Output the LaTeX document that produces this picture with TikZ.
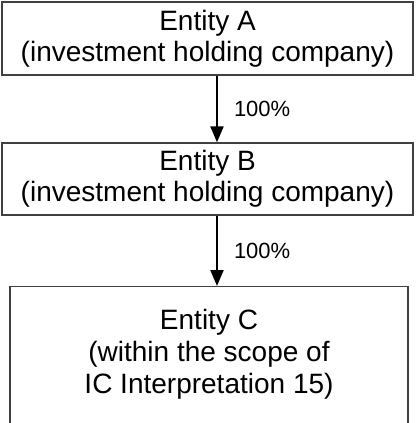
\documentclass[tikz,border=0pt]{standalone}
\usepackage{fontspec}
\setmainfont{Liberation Sans}
\usetikzlibrary{arrows.meta}

\tikzset{
  entity/.style={draw=black!75, line width=1.3pt, rectangle, inner sep=0pt, align=center,
    font=\fontsize{28}{31}\selectfont},
  entitytext/.style={inner sep=0pt, align=center, font=\fontsize{28}{32}\selectfont},
  share/.style={draw=black, line width=2pt, -{Triangle[length=16pt, width=13pt]}},
  pct/.style={anchor=west, inner sep=0pt, font=\fontsize{22}{26}\selectfont}
}

\begin{document}
\begin{tikzpicture}[x=1pt, y=1pt]%
  \useasboundingbox (0,0) rectangle (417,-423);
  \clip (0,0) rectangle (417,-423);
  \node[entity, minimum width=411pt, minimum height=73pt] (entA) at (207.5,-38.5)
    {Entity A\\(investment holding company)};
  \node[entity, minimum width=411pt, minimum height=72pt] (entB) at (207.5,-179)
    {Entity B\\(investment holding company)};
  \node[entity, minimum width=398pt, minimum height=200pt, anchor=north] (entC) at (209,-286) {};
  \node[entitytext] (entCtext) at (209,-354)
    {Entity C\\(within the scope of\\IC Interpretation 15)};
  \draw[share]
    ([xshift=9.5pt]entA.south)
    --
    ([xshift=9.5pt]entA.south |- entB.north)
    node[pct, midway, xshift=16pt] (pctAB) {100\%};
  \draw[share]
    ([xshift=9.5pt]entB.south)
    --
    ([xshift=9.5pt]entB.south |- entC.north)
    node[pct, midway, xshift=16pt] (pctBC) {100\%};
\end{tikzpicture}
\end{document}
